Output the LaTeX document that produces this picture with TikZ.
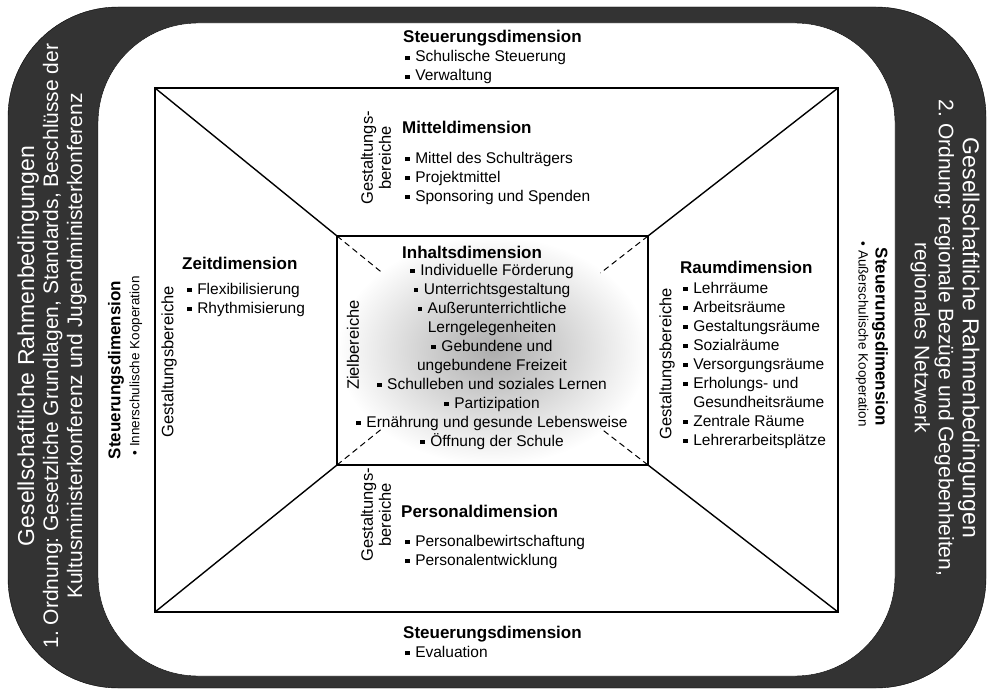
\documentclass[tikz,border=0pt]{standalone}
\usepackage{fontspec}
\setmainfont{Liberation Sans}
\usepackage{tikz}
\usetikzlibrary{calc, positioning}
\definecolor{bandcolor}{RGB}{51, 51, 51}
\newcommand{\sqb}{\rule[0.22ex]{0.3em}{0.3em}\hspace{0.35em}}
\newcommand{\rdb}{\textbullet\hspace{0.3em}}
\frenchspacing

\tikzset{
  head/.style={font=\fontsize{17}{20}\selectfont\bfseries, inner sep=0pt, anchor=base west},
  % anchor base = baseline of the last line
  itemlist/.style={font=\fontsize{15.5}{19}\selectfont, inner sep=0pt, align=left, anchor=base west},
  sidelabel/.style={font=\fontsize{16.5}{18}\selectfont, inner sep=0pt, align=center},
  koop/.style={font=\fontsize{13.5}{15}\selectfont, inner sep=0pt},
  bandtext/.style={white, font=\fontsize{21}{24}\selectfont, inner sep=0pt, align=center},
  frameline/.style={line width=1.4pt},
}

\begin{document}
\begin{tikzpicture}[x=1pt, y=-1pt]
        \useasboundingbox (0,0) rectangle (987,690);
        % Dark outer band
        \draw[black, fill=bandcolor, rounded corners=110pt] (8,7) rectangle (986,688);
        % White inner field
        \draw[black, fill=white, rounded corners=100pt] (98,23) rectangle (895,676);

        % Corners of the frame
        \coordinate (o1) at (155,88);
        \coordinate (o2) at (838,88);
        \coordinate (o3) at (838,612);
        \coordinate (o4) at (155,612);
        \coordinate (i1) at (337,236);
        \coordinate (i2) at (648,236);
        \coordinate (i3) at (648,465);
        \coordinate (i4) at (337,465);

        % Shaded middle box
        \shade[inner color=black!32, outer color=white] (i1) rectangle (i3);
        \draw[frameline] (o1) rectangle (o3);
        \draw[frameline] (i1) rectangle (i3);
        \foreach \k in {1,...,4} {
            \draw[frameline] (o\k) -- (i\k);
            \draw[line width=1pt, dash pattern=on 6pt off 4pt] (i\k) -- ($(o\k)!1.25!(i\k)$);
        }

        % Side bands
        \node[bandtext, rotate=90] (bandLeft) at (52,346)
            {{\fontsize{23}{24}\selectfont Gesellschaftliche Rahmenbedingungen}\\
             1. Ordnung: Gesetzliche Grundlagen, Standards, Beschlüsse der\\
             Kultusministerkonferenz und Jugendministerkonferenz};
        \node[bandtext, rotate=-90] (bandRight) at (945,338)
            {{\fontsize{23}{24}\selectfont Gesellschaftliche Rahmenbedingungen}\\
             2. Ordnung: regionale Bezüge und Gegebenheiten,\\
             regionales Netzwerk};

        % Steuerung left and right
        \node[head, anchor=center, rotate=90] (steuLeft) at (116,370) {Steuerungsdimension};
        \node[koop, rotate=90] (koopLeft) at (136,366) {\rdb Innerschulische Kooperation};
        \node[head, anchor=center, rotate=-90] (steuRight) at (880,337) {Steuerungsdimension};
        \node[koop, rotate=-90] (koopRight) at (862,334) {\rdb Außerschulische Kooperation};

        % Steuerung top
        \node[head] (steuTop) at (403,43) {Steuerungsdimension};
        \node[itemlist] (steuTopList) at (405,81) {\sqb Schulische Steuerung\\ \sqb Verwaltung};

        % Mitteldimension
        \node[head] (mittel) at (402,134) {Mitteldimension};
        \node[itemlist] (mittelList) at (405,201)
            {\sqb Mittel des Schulträgers\\ \sqb Projektmittel\\ \sqb Sponsoring und Spenden};
        \node[sidelabel, rotate=90] (mittelGest) at (376,158) {Gestaltungs-\\bereiche};

        % Zeitdimension
        \node[head] (zeit) at (182,269) {Zeitdimension};
        \node[itemlist] (zeitList) at (187,313) {\sqb Flexibilisierung\\ \sqb Rhythmisierung};
        \node[sidelabel, rotate=90] (zeitGest) at (169,362) {Gestaltungsbereiche};

        % Inhaltsdimension
        \node[head] (inhalt) at (402,258) {Inhaltsdimension};
        \node[itemlist, align=center, anchor=base] (inhaltList) at (492,446)
            {\sqb Individuelle Förderung\\ \sqb Unterrichtsgestaltung\\
             \sqb Außerunterrichtliche\\ Lerngelegenheiten\\
             \sqb Gebundene und\\ ungebundene Freizeit\\
             \sqb Schulleben und soziales Lernen\\ \sqb Partizipation\\
             \sqb Ernährung und gesunde Lebensweise\\ \sqb Öffnung der Schule};
        \node[sidelabel, rotate=90] (ziel) at (353,345) {Zielbereiche};

        % Raumdimension
        \node[head] (raum) at (680,273) {Raumdimension};
        \node[itemlist] (raumList) at (683,445)
            {\sqb Lehrräume\\ \sqb Arbeitsräume\\ \sqb Gestaltungsräume\\
             \sqb Sozialräume\\ \sqb Versorgungsräume\\ \sqb Erholungs- und\\
             \phantom{\sqb}Gesundheitsräume\\ \sqb Zentrale Räume\\ \sqb Lehrerarbeitsplätze};
        \node[sidelabel, rotate=90] (raumGest) at (667,364) {Gestaltungsbereiche};

        % Personaldimension
        \node[head] (personal) at (401,517) {Personaldimension};
        \node[itemlist] (personalList) at (405,565)
            {\sqb Personalbewirtschaftung\\ \sqb Personalentwicklung};
        \node[sidelabel, rotate=90] (personalGest) at (376,515) {Gestaltungs-\\bereiche};

        % Steuerung bottom
        \node[head] (steuBot) at (403,638) {Steuerungsdimension};
        \node[itemlist] (steuBotList) at (405,657) {\sqb Evaluation};
    \end{tikzpicture}
\end{document}
